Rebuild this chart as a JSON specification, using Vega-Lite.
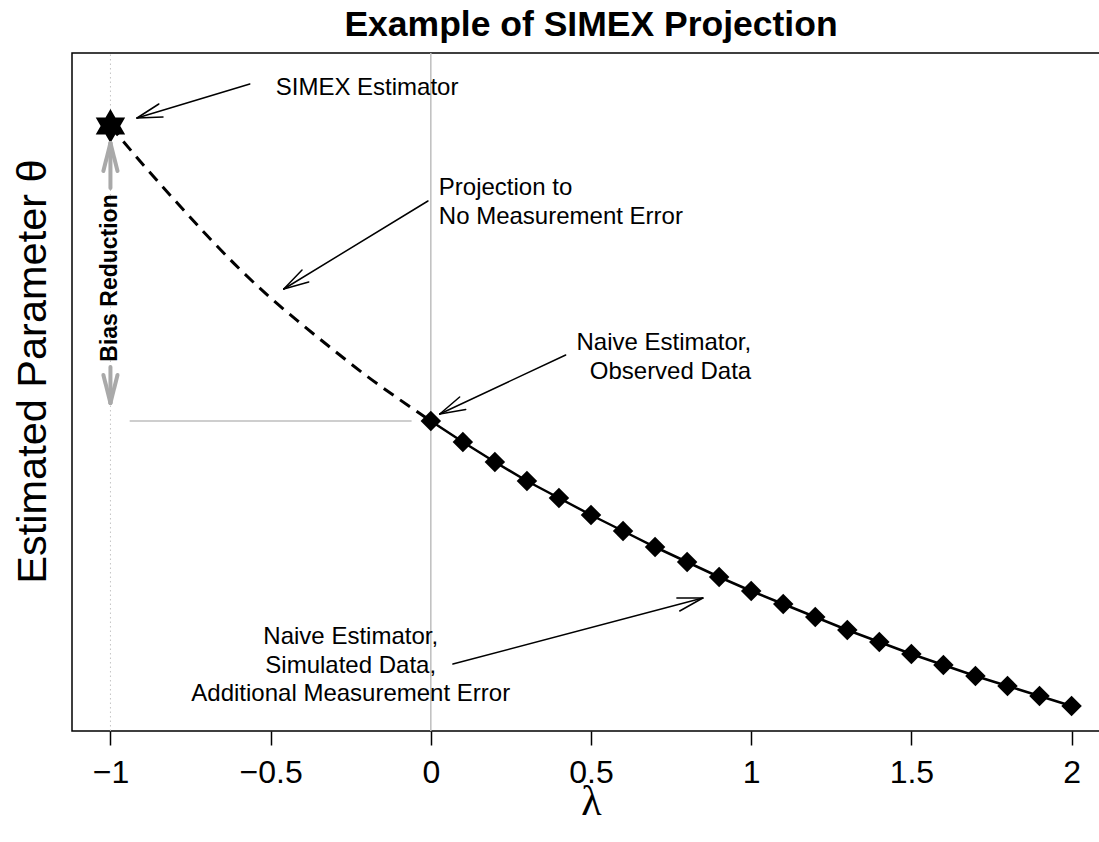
{
  "$schema": "https://vega.github.io/schema/vega-lite/v6.json",
  "width": 1038,
  "height": 678,
  "autosize": {"type": "none"},
  "padding": {"left": 72, "top": 53, "right": -11, "bottom": 111},
  "background": "white",
  "title": {
    "text": "Example of SIMEX Projection",
    "font": "Liberation Sans",
    "fontSize": 35.5,
    "fontWeight": "bold",
    "color": "#000",
    "anchor": "middle",
    "baseline": "alphabetic",
    "offset": -19
  },
  "config": {
    "view": {"stroke": "#000", "strokeWidth": 1.5},
    "font": "Liberation Sans",
    "axis": {"grid": false}
  },
  "datasets": {
    "naive": [
      {"lambda": 0.0, "theta": 3.10}, {"lambda": 0.1, "theta": 2.89}, {"lambda": 0.2, "theta": 2.69},
      {"lambda": 0.3, "theta": 2.50}, {"lambda": 0.4, "theta": 2.33}, {"lambda": 0.5, "theta": 2.16},
      {"lambda": 0.6, "theta": 2.00}, {"lambda": 0.7, "theta": 1.84}, {"lambda": 0.8, "theta": 1.69},
      {"lambda": 0.9, "theta": 1.54}, {"lambda": 1.0, "theta": 1.40}, {"lambda": 1.1, "theta": 1.27},
      {"lambda": 1.2, "theta": 1.14}, {"lambda": 1.3, "theta": 1.01}, {"lambda": 1.4, "theta": 0.89},
      {"lambda": 1.5, "theta": 0.77}, {"lambda": 1.6, "theta": 0.66}, {"lambda": 1.7, "theta": 0.55},
      {"lambda": 1.8, "theta": 0.45}, {"lambda": 1.9, "theta": 0.35}, {"lambda": 2.0, "theta": 0.25}
    ],
    "projection": [
      {"lambda": -1.0, "theta": 6.05}, {"lambda": -0.9, "theta": 5.67}, {"lambda": -0.8, "theta": 5.31},
      {"lambda": -0.7, "theta": 4.96}, {"lambda": -0.6, "theta": 4.63}, {"lambda": -0.5, "theta": 4.33},
      {"lambda": -0.4, "theta": 4.06}, {"lambda": -0.3, "theta": 3.80}, {"lambda": -0.2, "theta": 3.55},
      {"lambda": -0.1, "theta": 3.32}, {"lambda": 0.0, "theta": 3.10}
    ],
    "simex": [{"lambda": -1.0, "theta": 6.05}],
    "guides": [
      {"lambda": -0.94, "lambda2": -0.06, "theta": 3.10, "theta2": 3.10}
    ],
    "vline_dotted": [{"lambda": -1.0, "theta": 0, "theta2": 6.78}],
    "vline_solid": [{"lambda": 0.0, "theta": 0, "theta2": 6.78}],
    "arrows": [
      {"lambda": -0.565, "theta": 6.47, "lambda2": -0.917, "theta2": 6.13},
      {"lambda": -0.917, "theta": 6.13, "lambda2": -0.849, "theta2": 6.27},
      {"lambda": -0.917, "theta": 6.13, "lambda2": -0.836, "theta2": 6.14},
      {"lambda": -0.009, "theta": 5.30, "lambda2": -0.459, "theta2": 4.42},
      {"lambda": -0.459, "theta": 4.42, "lambda2": -0.402, "theta2": 4.61},
      {"lambda": -0.459, "theta": 4.42, "lambda2": -0.381, "theta2": 4.49},
      {"lambda": 0.421, "theta": 3.76, "lambda2": 0.028, "theta2": 3.17},
      {"lambda": 0.028, "theta": 3.17, "lambda2": 0.090, "theta2": 3.34},
      {"lambda": 0.028, "theta": 3.17, "lambda2": 0.109, "theta2": 3.215},
      {"lambda": 0.069, "theta": 0.67, "lambda2": 0.849, "theta2": 1.33},
      {"lambda": 0.849, "theta": 1.33, "lambda2": 0.777, "theta2": 1.20},
      {"lambda": 0.849, "theta": 1.33, "lambda2": 0.768, "theta2": 1.33}
    ],
    "bias_arrows": [
      {"lambda": -1.0, "theta": 5.43, "lambda2": -1.0, "theta2": 5.88},
      {"lambda": -1.0, "theta": 5.88, "lambda2": -1.022, "theta2": 5.60},
      {"lambda": -1.0, "theta": 5.88, "lambda2": -0.978, "theta2": 5.60},
      {"lambda": -1.0, "theta": 3.64, "lambda2": -1.0, "theta2": 3.28},
      {"lambda": -1.0, "theta": 3.28, "lambda2": -1.022, "theta2": 3.56},
      {"lambda": -1.0, "theta": 3.28, "lambda2": -0.978, "theta2": 3.56}
    ],
    "labels_left": [
      {"lambda": -0.484, "theta": 6.36, "label": "SIMEX Estimator"},
      {"lambda": 0.025, "theta": 5.36, "label": "Projection to"},
      {"lambda": 0.025, "theta": 5.075, "label": "No Measurement Error"}
    ],
    "labels_right": [
      {"lambda": 1.0, "theta": 3.81, "label": "Naive Estimator,"},
      {"lambda": 1.0, "theta": 3.525, "label": "Observed Data"}
    ],
    "labels_center": [
      {"lambda": -0.25, "theta": 0.87, "label": "Naive Estimator,"},
      {"lambda": -0.25, "theta": 0.585, "label": "Simulated Data,"},
      {"lambda": -0.25, "theta": 0.30, "label": "Additional Measurement Error"}
    ],
    "bias_label": [{"lambda": -1.0, "theta": 4.53, "label": "Bias Reduction"}]
  },
  "encoding": {
    "x": {
      "field": "lambda",
      "type": "quantitative",
      "scale": {"domain": [-1.12, 2.12], "nice": false, "zero": false},
      "axis": {
        "title": "λ",
        "values": [-1, -0.5, 0, 0.5, 1, 1.5, 2],
        "format": "~g",
        "domain": false,
        "ticks": true,
        "tickColor": "#000",
        "tickSize": 14,
        "tickWidth": 1.5,
        "labelFont": "Liberation Sans",
        "labelFontSize": 32,
        "labelColor": "#000",
        "labelPadding": 12,
        "labelFlush": false,
        "labelOverlap": false,
        "titleFont": "Liberation Serif",
        "titleFontSize": 42,
        "titleFontWeight": "normal",
        "titleColor": "#000",
        "titlePadding": -7
      }
    },
    "y": {
      "field": "theta",
      "type": "quantitative",
      "scale": {"domain": [0, 6.78], "nice": false, "zero": false},
      "axis": {
        "title": "Estimated Parameter θ",
        "domain": false,
        "ticks": false,
        "labels": false,
        "titleFont": "Liberation Sans",
        "titleFontSize": 41.5,
        "titleFontWeight": "normal",
        "titleColor": "#000",
        "titlePadding": 18,
        "titleY": 318,
        "titleAlign": "center"
      }
    }
  },
  "layer": [
    {
      "data": {"name": "vline_dotted"},
      "mark": {"type": "rule", "color": "#c4c4c4", "strokeWidth": 1, "strokeDash": [1.5, 3]},
      "encoding": {"y2": {"field": "theta2"}}
    },
    {
      "data": {"name": "vline_solid"},
      "mark": {"type": "rule", "color": "#bebebe", "strokeWidth": 1.5},
      "encoding": {"y2": {"field": "theta2"}}
    },
    {
      "data": {"name": "guides"},
      "mark": {"type": "rule", "color": "#bebebe", "strokeWidth": 1.5},
      "encoding": {"x2": {"field": "lambda2"}, "y2": {"field": "theta2"}}
    },
    {
      "data": {"name": "projection"},
      "mark": {"type": "line", "color": "#000", "strokeWidth": 3, "strokeDash": [12, 8], "interpolate": "monotone"},
      "encoding": {"order": {"field": "lambda"}}
    },
    {
      "data": {"name": "naive"},
      "mark": {"type": "line", "color": "#000", "strokeWidth": 2.5},
      "encoding": {"order": {"field": "lambda"}}
    },
    {
      "data": {"name": "naive"},
      "mark": {"type": "point", "shape": "diamond", "filled": true, "color": "#000", "opacity": 1, "size": 420}
    },
    {
      "data": {"name": "simex"},
      "mark": {
        "type": "point",
        "shape": "M0,-1L0.866,0.5L-0.866,0.5Z M0,1L-0.866,-0.5L0.866,-0.5Z",
        "filled": true,
        "color": "#000",
        "opacity": 1,
        "size": 1156
      }
    },
    {
      "data": {"name": "bias_arrows"},
      "mark": {"type": "rule", "color": "#a9a9a9", "strokeWidth": 4, "strokeCap": "round"},
      "encoding": {"x2": {"field": "lambda2"}, "y2": {"field": "theta2"}}
    },
    {
      "data": {"name": "arrows"},
      "mark": {"type": "rule", "color": "#000", "strokeWidth": 1.5, "strokeCap": "round"},
      "encoding": {"x2": {"field": "lambda2"}, "y2": {"field": "theta2"}}
    },
    {
      "data": {"name": "labels_left"},
      "mark": {"type": "text", "align": "left", "baseline": "alphabetic", "font": "Liberation Sans", "fontSize": 24, "color": "#000"},
      "encoding": {"text": {"field": "label"}}
    },
    {
      "data": {"name": "labels_right"},
      "mark": {"type": "text", "align": "right", "baseline": "alphabetic", "font": "Liberation Sans", "fontSize": 24, "color": "#000"},
      "encoding": {"text": {"field": "label"}}
    },
    {
      "data": {"name": "labels_center"},
      "mark": {"type": "text", "align": "center", "baseline": "alphabetic", "font": "Liberation Sans", "fontSize": 24, "color": "#000"},
      "encoding": {"text": {"field": "label"}}
    },
    {
      "data": {"name": "bias_label"},
      "mark": {"type": "text", "align": "center", "baseline": "middle", "angle": 270, "font": "Liberation Sans", "fontSize": 23, "fontWeight": "bold", "color": "#000"},
      "encoding": {"text": {"field": "label"}}
    }
  ]
}
